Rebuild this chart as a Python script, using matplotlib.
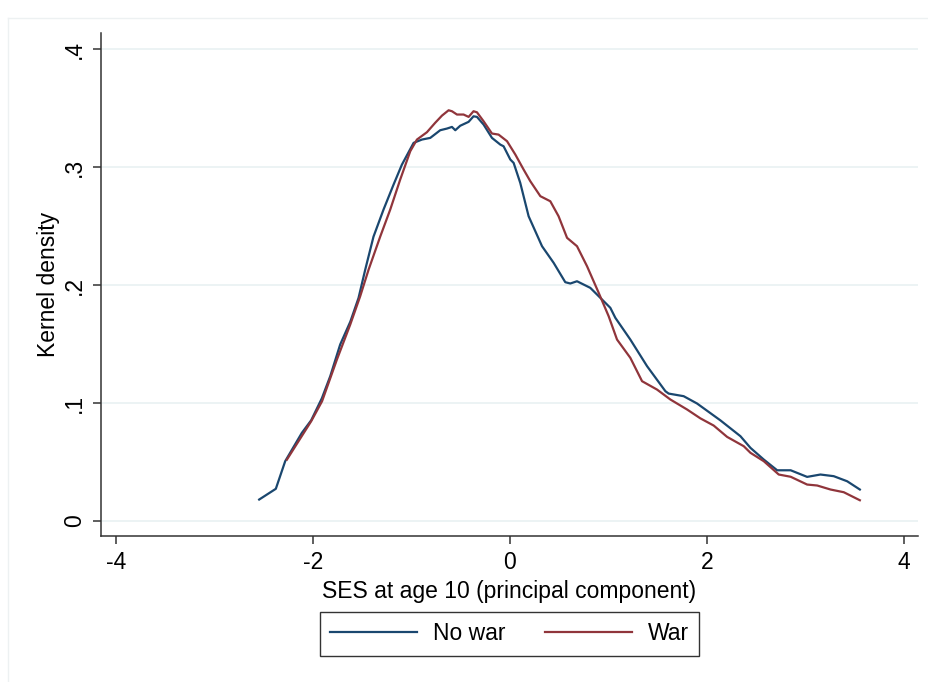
import matplotlib
matplotlib.use("Agg")
import matplotlib.pyplot as plt
from matplotlib.lines import Line2D

plt.rcParams['font.family'] = ['Liberation Sans', 'DejaVu Sans']

# No war (blue)
nowar_x = [-2.545, -2.376, -2.281, -2.112, -2.017, -1.909, -1.824, -1.723, -1.62, -1.537,
           -1.469, -1.385, -1.283, -1.182, -1.097, -0.978, -0.893, -0.809, -0.708, -0.64,
           -0.589, -0.555, -0.505, -0.42, -0.37, -0.335, -0.268, -0.183, -0.098, -0.065,
           0.003, 0.037, 0.104, 0.189, 0.325, 0.443, 0.561, 0.612, 0.68, 0.815, 0.934,
           1.018, 1.069, 1.221, 1.391, 1.577, 1.61, 1.762, 1.898, 2.135, 2.338, 2.44,
           2.575, 2.711, 2.848, 3.015, 3.15, 3.285, 3.421, 3.55]
nowar_y = [0.0182, 0.0273, 0.0507, 0.0747, 0.0854, 0.104, 0.1227, 0.1496, 0.169, 0.189,
           0.213, 0.241, 0.264, 0.285, 0.302, 0.3205, 0.3233, 0.3247, 0.3312, 0.3326,
           0.334, 0.3312, 0.335, 0.3383, 0.343, 0.3425, 0.336, 0.3247, 0.319, 0.3176,
           0.3064, 0.3035, 0.2866, 0.2583, 0.2329, 0.2188, 0.2024, 0.2013, 0.2032, 0.1976, 0.1877,
           0.1807, 0.1722, 0.1538, 0.1312, 0.110, 0.108, 0.1058, 0.0996, 0.0853, 0.0719, 0.062,
           0.0521, 0.043, 0.043, 0.0374, 0.0394, 0.038, 0.0337, 0.0267]

# War (red)
war_x = [-2.264, -2.017, -1.907, -1.756, -1.621, -1.52, -1.435, -1.317, -1.215, -1.114,
         -1.012, -0.944, -0.843, -0.759, -0.69, -0.623, -0.589, -0.538, -0.471, -0.42,
         -0.37, -0.335, -0.268, -0.183, -0.116, -0.03, 0.054, 0.138, 0.206, 0.308, 0.409,
         0.493, 0.579, 0.68, 0.782, 0.9, 1.001, 1.086, 1.221, 1.34, 1.492, 1.627, 1.797,
         1.932, 2.067, 2.203, 2.372, 2.44, 2.575, 2.727, 2.848, 3.015, 3.117, 3.252, 3.387, 3.55]
war_y = [0.052, 0.0846, 0.1015, 0.1369, 0.1665, 0.1905, 0.213, 0.241, 0.264, 0.2894,
         0.3134, 0.3233, 0.3295, 0.3375, 0.3436, 0.3481, 0.3473, 0.3445, 0.3445, 0.3425,
         0.3473, 0.3464, 0.3388, 0.3284, 0.3275, 0.3219, 0.3106, 0.2979, 0.288, 0.2753, 0.271,
         0.2583, 0.24, 0.2329, 0.2159, 0.1934, 0.1736, 0.1538, 0.1383, 0.1185, 0.1114, 0.103, 0.0945,
         0.0870, 0.0809, 0.0713, 0.0634, 0.0578, 0.0507, 0.0394, 0.0375, 0.0309, 0.0301, 0.0267, 0.0244, 0.0176]

x_ticks = [-4, -2, 0, 2, 4]
y_ticks = [0, 0.1, 0.2, 0.3, 0.4]
y_tick_labels = ["0", ".1", ".2", ".3", ".4"]
series_labels = ["No war", "War"]
colors = ["#1a476f", "#90353b"]

FS = 16.5

fig = plt.figure(figsize=(9.29, 6.82), dpi=100)
fig.patch.set_facecolor("white")
ax = fig.add_axes([101/929, (682-536)/682, (918-101)/929, (536-33)/682])

# faint outer graph-region border (left and top)
fig.add_artist(Line2D([8/929, 8/929], [0, 1 - 18/682], color="#edf1f2", lw=1, transform=fig.transFigure))
fig.add_artist(Line2D([8/929, 1], [1 - 18/682, 1 - 18/682], color="#edf1f2", lw=1, transform=fig.transFigure))

for yt in y_ticks:
    ax.axhline(yt, color="#eaf2f3", lw=1.3, zorder=0)

ax.plot(nowar_x, nowar_y, color=colors[0], lw=1.6, label=series_labels[0], zorder=3)
ax.plot(war_x, war_y, color=colors[1], lw=1.6, label=series_labels[1], zorder=3)

ax.set_xlim(-4.15, 4.14)
ax.set_ylim(-0.0127, 0.4136)
ax.set_xticks(x_ticks)
ax.set_xticklabels([str(v) for v in x_ticks])
ax.set_yticks(y_ticks)
ax.set_yticklabels(y_tick_labels, rotation=90, va="center")

for s in ["top", "right"]:
    ax.spines[s].set_visible(False)
for s in ["left", "bottom"]:
    ax.spines[s].set_color("#333333")
    ax.spines[s].set_linewidth(1.1)
ax.tick_params(axis="both", direction="out", length=6, width=1.1, color="#333333",
               labelsize=FS, pad=5)

ax.set_xlabel("SES at age 10 (principal component)", fontsize=FS, labelpad=4)
ax.set_ylabel("Kernel density", fontsize=FS, labelpad=2)

leg = fig.legend(loc="center", bbox_to_anchor=(509.5/929, 1 - 634/682), ncol=2,
                 fontsize=FS, frameon=True, fancybox=False, edgecolor="black",
                 handlelength=3.8, columnspacing=1.7, handletextpad=0.7,
                 borderpad=0.45)
leg.get_frame().set_linewidth(1.0)

fig.savefig("out.png", dpi=100, facecolor="white")
